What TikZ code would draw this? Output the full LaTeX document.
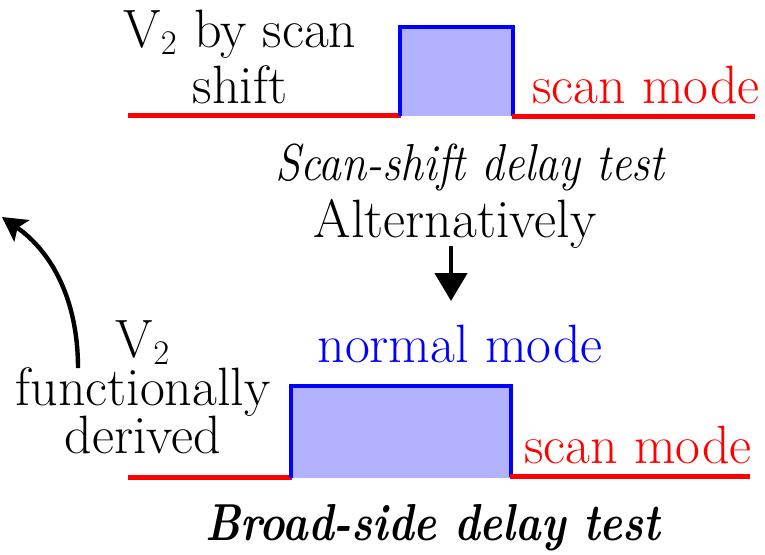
\documentclass[tikz,border=0pt]{standalone}
\usepackage{fontspec}
\usetikzlibrary{arrows.meta}
\tikzset{
  lbl/.style={anchor=base, inner sep=0pt, font=\fontsize{27}{30}\selectfont},
  multi/.style={anchor=base, inner sep=0pt, align=center},
  ital/.style={anchor=base, inner sep=0pt, font=\fontsize{26}{30}\selectfont\itshape},
  redline/.style={draw=red, line width=2.5pt},
  blueline/.style={draw=blue, line width=2pt},
  pulse/.style={fill=blue!30, draw=none},
  arr/.style={line width=2.3pt, -{Triangle[width=16pt,length=14pt]}},
  curvearr/.style={line width=2.2pt, -{Stealth[width=13pt,length=12pt,inset=2.5pt]}}
}
\begin{document}
\begin{tikzpicture}[x=0.5pt,y=-0.5pt]
\useasboundingbox (0,0) rectangle (765,554);
% top waveform
\fill[pulse] (400,26.5) rectangle (513,116);
\draw[redline] (128,115) -- (401,115);
\draw[blueline] (400,116) -- (400,26.5) -- (513,26.5) -- (513,116);
\draw[redline] (512,116) -- (755,116);
\node[multi, font={\fontsize{27}{28}\selectfont\lineskiplimit-50pt}] (t1) at (240,103) {V$_2$ by scan\\shift};
\node[lbl, text=red] (tscan) at (646,103) {scan mode};
\node[ital] (tcap) at (470,180) {\scalebox{0.875}[1]{Scan-shift delay test}};
\node[lbl] (alt) at (455,237) {Alternatively};
\coordinate (a1) at (451,246);
\coordinate (a2) at (451,301);
\draw[arr] (a1) -- (a2);
% bottom waveform
\fill[pulse] (291,386) rectangle (511,478);
\draw[redline] (128,477) -- (292,477);
\draw[blueline] (291,478) -- (291,386) -- (511,386) -- (511,477);
\draw[redline] (510,476) -- (750,476);
\node[lbl, text=blue] (nm) at (460,362) {normal mode};
\node[lbl, text=red] (bscan) at (638,463) {scan mode};
\node[multi, font={\fontsize{27}{24}\selectfont\lineskiplimit-50pt}] (b1) at (143,453) {V$_2$\\functionally\\derived};
\node[ital] (bcap) at (433,540) {\scalebox{0.83}[1]{\bfseries Broad-side delay test}};
% curved arrow
\coordinate (c1) at (78,368);
\coordinate (c2) at (2,217);
\draw[curvearr] (c1) .. controls (78,300) and (52,252) .. (c2);
\end{tikzpicture}
\end{document}
